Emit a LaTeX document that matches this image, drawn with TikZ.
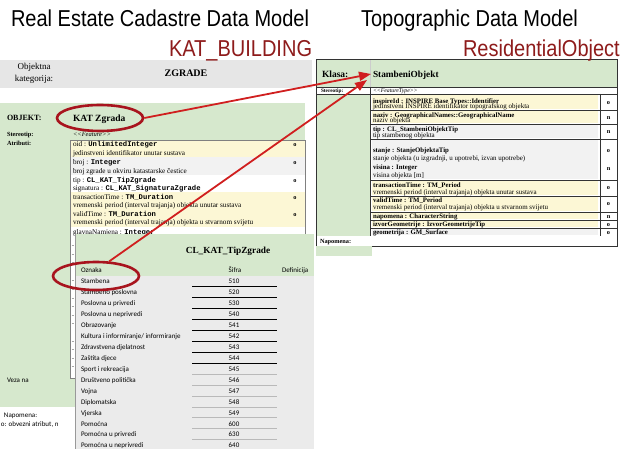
\documentclass[tikz,border=0pt]{standalone}
\usepackage{fontspec}
\setmainfont{Liberation Serif}
\setmonofont{Liberation Mono}
\newfontfamily\titlefont[FakeStretch=0.87]{Liberation Sans}
\newfontfamily\calfont{Carlito}
\usetikzlibrary{shapes.geometric,arrows.meta}
\definecolor{pgreen}{HTML}{D6E8CD}
\definecolor{pgray}{HTML}{E6E6E6}
\definecolor{pyellow}{HTML}{FCF7D5}
\definecolor{rowgray}{HTML}{F2F2F2}
\definecolor{tgray}{HTML}{EBEBEB}
\definecolor{titlered}{HTML}{8E1B1B}
\definecolor{ellred}{HTML}{A8141E}
\definecolor{arrred}{HTML}{D01F1F}
\newcommand\myfs[1]{\fontsize{#1}{#1}\selectfont}
\begin{document}
\begin{tikzpicture}[x=1pt,y=-1pt,
  t/.style={inner sep=0pt,outer sep=0pt,anchor=base west},
  tc/.style={inner sep=0pt,outer sep=0pt,anchor=base},
  att/.style={t,font=\myfs{7.2}},
  ratt/.style={t,font=\myfs{6.8}\bfseries},
  rdesc/.style={t,font=\myfs{7}},
  omark/.style={tc,font=\myfs{6.3}\bfseries},
  cl/.style={t,font=\calfont\myfs{7}},
  clc/.style={tc,font=\calfont\myfs{7}},
  redell/.style={ellipse,draw=ellred,line width=2.6pt,inner sep=0pt},
  redarrow/.style={draw=arrred,line width=1.8pt,-{Triangle[length=12pt,width=9pt]}},
  ttl/.style={t,font=\titlefont\fontsize{23}{23}\selectfont}
  ]
\clip (0,0) rectangle (622,449);
\fill[white] (0,0) rectangle (622,449);

% ---------- left panel ----------
\fill[pgray] (0,60) rectangle (312,88);
\node[tc,font=\myfs{9}] (ok1) at (34,70) {Objektna};
\node[tc,font=\myfs{9}] (ok2) at (34,82) {kategorija:};
\node[tc,font=\myfs{10}\bfseries] (zg) at (186,76.5) {ZGRADE};

\fill[pgreen] (0,103) rectangle (305,407);
\node[t,font=\myfs{8}\bfseries] (obj) at (7,121) {OBJEKT:};
\node[t,font=\myfs{9.5}\bfseries] (kat) at (73,121.5) {KAT Zgrada};
\node[t,font=\myfs{6.3}\bfseries] (st) at (7,137) {Stereotip:};
\node[t,font=\myfs{6.3}\bfseries] (at) at (7,145.5) {Atributi:};
\node[t,font=\myfs{6.5}\itshape] (fe) at (73,137) {<\kern0pt<Feature>\kern0pt>};

% attribute box
\filldraw[fill=white,draw=gray,line width=0.6pt] (70,140) rectangle (305,378);
\fill[pyellow] (71,141) rectangle (304.5,157.5);
\fill[rowgray] (71,157.5) rectangle (304.5,175);
\fill[pyellow] (71,192) rectangle (304.5,227);
\node[att] (a1) at (73,146.5) {oid : \texttt{\bfseries UnlimitedInteger}};
\node[att] (a2) at (73,155.5) {jedinstveni identifikator unutar sustava};
\node[att] (a3) at (73,164.5) {broj : \texttt{\bfseries Integer}};
\node[att] (a4) at (73,173.5) {broj zgrade u okviru katastarske čestice};
\node[att] (a5) at (73,182.5) {tip : \texttt{\bfseries CL\_KAT\_TipZgrade}};
\node[att] (a6) at (73,191) {signatura : \texttt{\bfseries CL\_KAT\_SignaturaZgrade}};
\node[att] (a7) at (73,199.5) {transactionTime : \texttt{\bfseries TM\_Duration}};
\node[att] (a8) at (73,208) {vremenski period (interval trajanja) objekta unutar sustava};
\node[att] (a9) at (73,216.5) {validTime : \texttt{\bfseries TM\_Duration}};
\node[att] (a10) at (73,225) {vremenski period (interval trajanja) objekta u stvarnom svijetu};
\node[att] (a11) at (73,235) {glavnaNamjena : \texttt{\bfseries Integer}};
\foreach \yy/\nm in {146.5/1,164.5/2,182.5/3,199.5/4,216.5/5}
  \node[omark] (ao\nm) at (295,\yy) {o};
\foreach \yy in {245,254,262,280,289,298,306,315,323,341,349,358,366}
  \draw[gray!70,line width=0.7pt] (71.5,\yy) -- (74,\yy);

\node[t,font=\calfont\myfs{7}] (vz) at (7,382.5) {Veza na};
\node[t,font=\calfont\myfs{7}] (np) at (4,417.5) {Napomena:};
\node[t,font=\calfont\myfs{7}] (np2) at (1,426.5) {o: obvezni atribut, n};

% ---------- code list table ----------
\fill[tgray] (76,234) rectangle (314,449);
\fill[pgreen] (76,234) rectangle (314,276);
\draw[gray!80,line width=0.5pt] (75.5,234) -- (75.5,449);
\node[tc,font=\myfs{9.3}\bfseries] (clt) at (228,253.5) {CL\_KAT\_TipZgrade};
\node[cl] (h1) at (81,272.5) {Oznaka};
\node[clc] (h2) at (235,272.5) {Šifra};
\node[cl] (h3) at (282,272.5) {Definicija};
\foreach \nm/\cd [count=\i from 0] in {Stambena/510,Stambeno poslovna/520,Poslovna u privredi/530,Poslovna u neprivredi/540,Obrazovanje/541,{Kultura i informiranje/ informiranje}/542,Zdravstvena djelatnost/543,Zaštita djece/544,Sport i rekreacija/545,Društveno politička/546,Vojna/547,Diplomatska/548,Vjerska/549,Pomoćna/600,Pomoćna u privredi/630,Pomoćna u neprivredi/640}{
  \pgfmathsetmacro\yc{281.2+10.95*\i}
  \node[cl] (rn\i) at (81,\yc+2.5) {\nm};
  \node[clc] (rc\i) at (234,\yc+2.5) {\cd};
  \ifnum\i<8
    \draw[black,line width=0.8pt] (192,\yc+5.3) -- (277,\yc+5.3);
  \else
    \draw[gray!55,line width=0.8pt] (192,\yc+5.3) -- (277,\yc+5.3);
  \fi
}

% ---------- right panel ----------
\fill[pgreen] (316,59) rectangle (617,87);
\draw[gray!40,line width=0.5pt] (370,59) -- (370,87);
\node[t,font=\myfs{9.5}\bfseries] (kl) at (322,78) {Klasa:};
\node[t,font=\myfs{9.3}\bfseries] (so) at (373,78) {StambeniObjekt};
\fill[white] (316,87) rectangle (617,94);
\node[t,font=\myfs{5.3}\bfseries] (rst) at (321,92.7) {Stereotip:};
\node[t,font=\myfs{5.8}\itshape] (rft) at (373,92.7) {<\kern0pt<FeatureType>\kern0pt>};
\fill[pgreen] (316,94) rectangle (370,236);
\fill[white] (370,94) rectangle (617,236);
\foreach \ya/\yb/\cc in {94/110/pyellow,110/124/pyellow,124/139/rowgray,139/180/rowgray,180/196/pyellow,196/212/pyellow,212/220/pyellow,220/228/pyellow,228/236/rowgray}
  \fill[\cc] (372,\ya+1) rectangle (598,\yb-0.6);
\foreach \yy in {110,124,139,180,196,212,220,228}
  \draw[black!80,line width=0.5pt] (370,\yy) -- (617,\yy);
\foreach \yy in {87,94,236}
  \draw[black!80,line width=0.6pt] (316,\yy) -- (617,\yy);
\draw[black!80,line width=0.6pt] (370,87) -- (370,236);
\draw[black!80,line width=0.6pt] (600,94) -- (600,236);
\fill[white] (317,236.5) rectangle (616.5,246);
\node[t,font=\myfs{6.3}\bfseries] (rnp) at (320,243.4) {Napomena:};
\draw[black!80,line width=0.7pt] (316,59) rectangle (617,246);
\fill[pgreen] (316,246.5) rectangle (372,256);

\node[ratt] (r1) at (373,103.5) {inspireId : INSPIRE Base Types::Identifier};
\node[rdesc] (r2) at (373,109) {jedinstveni INSPIRE identifikator topografskog objekta};
\node[ratt] (r3) at (373,117.5) {naziv : GeographicalNames::GeographicalName};
\node[rdesc] (r4) at (373,123) {naziv objekta};
\node[ratt] (r5) at (373,131.5) {tip : CL\_StambeniObjektTip};
\node[rdesc] (r6) at (373,137.3) {tip stambenog objekta};
\node[ratt] (r7) at (373,152.2) {stanje : StanjeObjektaTip};
\node[rdesc] (r8) at (373,160.7) {stanje objekta (u izgradnji, u upotrebi, izvan upotrebe)};
\node[ratt] (r9) at (373,169.7) {visina : Integer};
\node[rdesc] (r10) at (373,177.2) {visina objekta [m]};
\node[ratt] (r11) at (373,187.2) {transactionTime : TM\_Period};
\node[rdesc] (r12) at (373,194.2) {vremenski period (interval trajanja) objekta unutar sustava};
\node[ratt] (r13) at (373,202.7) {validTime : TM\_Period};
\node[rdesc] (r14) at (373,209.7) {vremenski period (interval trajanja) objekta u stvarnom svijetu};
\node[ratt] (r15) at (373,218.2) {napomena : CharacterString};
\node[ratt] (r16) at (373,226.2) {izvorGeometrije : IzvorGeometrijeTip};
\node[ratt] (r17) at (373,234.2) {geometrija : GM\_Surface};
\foreach \yy/\mk/\nm in {105/o/1,120/n/2,134/n/3,153/o/4,171/n/5,190/o/6,206/o/7,218.2/n/8,226.2/o/9,234.2/o/10}
  \node[omark] (ro\nm) at (608.5,\yy) {\mk};

% titles
\node[ttl] (ttl1) at (11,27) {Real Estate Cadastre Data Model};
\node[ttl] (ttl2) at (361,27) {Topographic Data Model};
\node[ttl,text=titlered] (ttl3) at (169,57) {KAT\_BUILDING};
\node[ttl,text=titlered] (ttl4) at (463,57) {ResidentialObject};

% ---------- highlights ----------
\node[redell,minimum width=86pt,minimum height=26pt] (e1) at (100,118) {};
\node[redell,minimum width=86pt,minimum height=28pt] (e2) at (96,276) {};
\coordinate (t1) at (371,74);
\coordinate (t2) at (367,80);
\draw[redarrow] (e1.east) -- (t1);
\draw[redarrow] (e2.48) -- (t2);
\end{tikzpicture}
\end{document}
